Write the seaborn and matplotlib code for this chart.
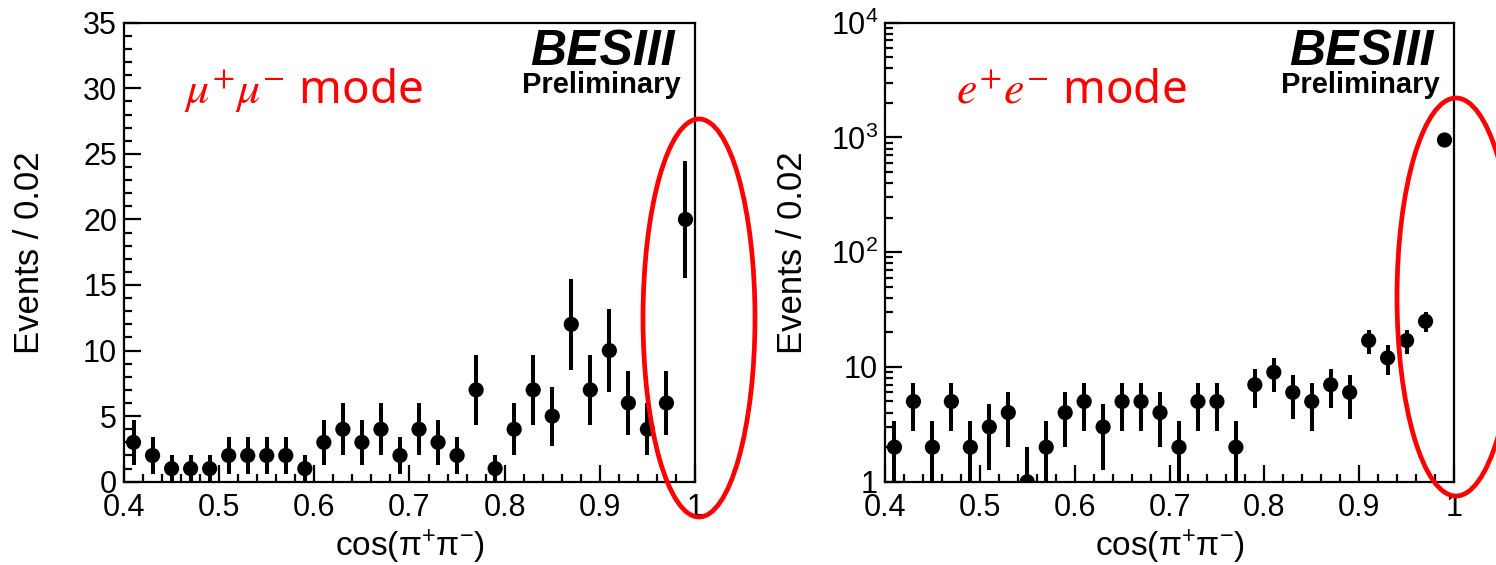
import numpy as np
import matplotlib
matplotlib.use("Agg")
import matplotlib.pyplot as plt
import seaborn as sns
from matplotlib.patches import Ellipse
from matplotlib.ticker import MultipleLocator, FixedLocator, FixedFormatter, LogLocator, NullFormatter

# ---------------- data ----------------
bin_centers = [0.41, 0.43, 0.45, 0.47, 0.49, 0.51, 0.53, 0.55, 0.57, 0.59,
               0.61, 0.63, 0.65, 0.67, 0.69, 0.71, 0.73, 0.75, 0.77, 0.79,
               0.81, 0.83, 0.85, 0.87, 0.89, 0.91, 0.93, 0.95, 0.97, 0.99]

mumu_counts = [3, 2, 1, 1, 1, 2, 2, 2, 2, 1,
               3, 4, 3, 4, 2, 4, 3, 2, 7, 1,
               4, 7, 5, 12, 7, 10, 6, 4, 6, 20]
mumu_errors = [1.73, 1.41, 1.0, 1.0, 1.0, 1.41, 1.41, 1.41, 1.41, 1.0,
               1.73, 2.0, 1.73, 2.0, 1.41, 2.0, 1.73, 1.41, 2.65, 1.0,
               2.0, 2.65, 2.24, 3.46, 2.65, 3.16, 2.45, 2.0, 2.45, 4.47]

ee_counts = [2, 5, 2, 5, 2, 3, 4, 1, 2, 4,
             5, 3, 5, 5, 4, 2, 5, 5, 2, 7,
             9, 6, 5, 7, 6, 17, 12, 17, 25, 950]
ee_errors = [1.41, 2.24, 1.41, 2.24, 1.41, 1.73, 2.0, 1.0, 1.41, 2.0,
             2.24, 1.73, 2.24, 2.24, 2.0, 1.41, 2.24, 2.24, 1.41, 2.65,
             3.0, 2.45, 2.24, 2.65, 2.45, 4.12, 3.46, 4.12, 5.0, 30.8]

xtick_values = [0.4, 0.5, 0.6, 0.7, 0.8, 0.9, 1.0]
xtick_labels = ["0.4", "0.5", "0.6", "0.7", "0.8", "0.9", "1"]
lin_ytick_values = [0, 5, 10, 15, 20, 25, 30, 35]
log_ytick_values = [1, 10, 100, 1000, 10000]
log_ytick_labels = ["1", "10", r"$\mathregular{10^{2}}$", r"$\mathregular{10^{3}}$",
                    r"$\mathregular{10^{4}}$"]

x_label = r"cos($\mathregular{\pi^{+}\pi^{-}}$)"
y_label = "Events / 0.02"
mode_labels = [r"$\mu^{+}\mu^{-}$ mode", r"$e^{+}e^{-}$ mode"]

# ---------------- style ----------------
sns.set_style("ticks")
plt.rcParams["font.family"] = ["Liberation Sans", "DejaVu Sans"]
plt.rcParams["mathtext.fontset"] = "custom"
plt.rcParams["mathtext.rm"] = "Liberation Sans"
plt.rcParams["mathtext.it"] = "Liberation Sans:italic"
for key in ["text.color", "axes.labelcolor", "xtick.color", "ytick.color",
            "axes.edgecolor", "xtick.labelcolor", "ytick.labelcolor"]:
    plt.rcParams[key] = "black"

W, H = 1496, 565
fig = plt.figure(figsize=(W / 100, H / 100), dpi=100)
fig.patch.set_facecolor("white")

ax1 = fig.add_axes([124 / W, (H - 481.7) / H, 571 / W, 459 / H])
ax2 = fig.add_axes([885 / W, (H - 481.7) / H, 569 / W, 459 / H])

def draw(ax, counts, errors):
    ax.errorbar(bin_centers, counts, yerr=errors, fmt="none", ecolor="black",
                elinewidth=2.9, capsize=0, zorder=2)
    sns.scatterplot(x=bin_centers, y=counts, ax=ax, color="black", s=120,
                    edgecolor="none", linewidth=0, zorder=3, legend=False)

def style_axes(ax):
    for side in ["top", "right", "left", "bottom"]:
        ax.spines[side].set_visible(True)
        ax.spines[side].set_linewidth(1.6)
        ax.spines[side].set_color("black")
    ax.set_facecolor("white")
    ax.grid(False)
    ax.set_xlim(0.4, 1.0)
    ax.xaxis.set_major_locator(FixedLocator(xtick_values))
    ax.xaxis.set_major_formatter(FixedFormatter(xtick_labels))
    ax.xaxis.set_minor_locator(MultipleLocator(0.02))
    ax.tick_params(axis="both", which="both", direction="in",
                   top=False, right=False, width=1.6, colors="black")
    ax.tick_params(axis="both", which="major", length=12, labelsize=22)
    ax.tick_params(axis="both", which="minor", length=6)
    ax.tick_params(axis="x", which="major", pad=8)
    ax.tick_params(axis="y", which="major", pad=5)

# left: mu mu
draw(ax1, mumu_counts, mumu_errors)
style_axes(ax1)
ax1.set_ylim(0, 35)
ax1.yaxis.set_major_locator(FixedLocator(lin_ytick_values))
ax1.yaxis.set_minor_locator(MultipleLocator(1))

# right: e e (log)
draw(ax2, ee_counts, ee_errors)
style_axes(ax2)
ax2.set_yscale("log")
ax2.set_ylim(1, 10000)
ax2.yaxis.set_major_locator(FixedLocator(log_ytick_values))
ax2.yaxis.set_major_formatter(FixedFormatter(log_ytick_labels))
ax2.yaxis.set_minor_locator(LogLocator(base=10, subs=np.arange(2, 10)))
ax2.yaxis.set_minor_formatter(NullFormatter())

for ax, yl_x, mode, mx in [(ax1, -0.137, mode_labels[0], 0.105),
                           (ax2, -0.134, mode_labels[1], 0.125)]:
    ax.set_xlabel(x_label, fontsize=24)
    ax.set_ylabel(y_label, fontsize=25)
    ax.yaxis.set_label_coords(yl_x, 0.5)
    ax.xaxis.set_label_coords(0.5, -0.1)
    ax.text(0.965, 0.907, "BESIII", transform=ax.transAxes, ha="right",
            va="baseline", fontsize=36, fontweight="bold", fontstyle="italic",
            color="black")
    ax.text(0.975, 0.846, "Preliminary", transform=ax.transAxes, ha="right",
            va="baseline", fontsize=21, fontweight="bold", color="black")
    ax.text(mx, 0.826, mode, transform=ax.transAxes, ha="left", va="baseline",
            fontsize=33, color="#ff0000", family="Noto Sans",
            math_fontfamily="stix")

# red highlight ellipses (figure coordinates)
for cx, cy, ew, eh in [(699, 318, 112, 398), (1456, 297, 118, 398)]:
    fig.add_artist(Ellipse((cx / W, 1 - cy / H), ew / W, eh / H,
                           transform=fig.transFigure, fill=False,
                           edgecolor="#ff0000", linewidth=3.4, zorder=10))

fig.savefig("out.png", dpi=100, facecolor="white")
